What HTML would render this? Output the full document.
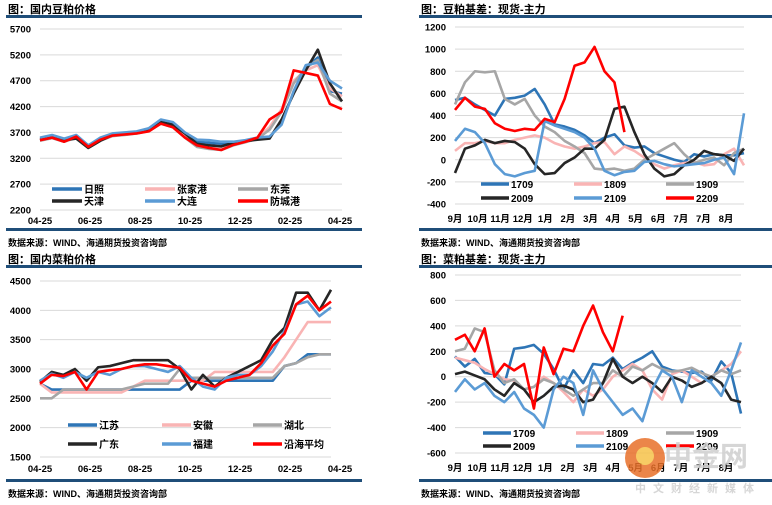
<!DOCTYPE html>
<html><head><meta charset="utf-8">
<style>
body{margin:0;background:#fff;width:772px;height:505px;overflow:hidden}
svg{display:block}
text{font-family:"Liberation Sans","Noto Sans CJK SC",sans-serif;font-weight:bold}
</style></head>
<body>
<svg id="s" width="772" height="505">
<text x="8" y="13" font-size="11">图：国内豆粕价格</text>
<rect x="6" y="15" width="356" height="3" fill="#1f4e79"/>
<rect x="6" y="228" width="356" height="3" fill="#1f4e79"/>
<text x="8" y="246" font-size="9">数据来源：WIND、海通期货投资咨询部</text>
<text x="421" y="13" font-size="11">图：豆粕基差：现货-主力</text>
<rect x="419" y="15" width="353" height="3" fill="#1f4e79"/>
<rect x="419" y="228" width="353" height="3" fill="#1f4e79"/>
<text x="421" y="246" font-size="9">数据来源：WIND、海通期货投资咨询部</text>
<text x="8" y="263" font-size="11">图：国内菜粕价格</text>
<rect x="6" y="265" width="356" height="3" fill="#1f4e79"/>
<rect x="6" y="479" width="356" height="3" fill="#1f4e79"/>
<text x="8" y="497" font-size="9">数据来源：WIND、海通期货投资咨询部</text>
<text x="421" y="263" font-size="11">图：菜粕基差：现货-主力</text>
<rect x="419" y="265" width="353" height="3" fill="#1f4e79"/>
<rect x="419" y="479" width="353" height="3" fill="#1f4e79"/>
<text x="421" y="497" font-size="9">数据来源：WIND、海通期货投资咨询部</text>
</svg>
<script>
// ---- chart data ----
const tlTicks=[2200,2700,3200,3700,4200,4700,5200,5700];
const dateLabels=["04-25","06-25","08-25","10-25","12-25","02-25","04-25"];
const tlNames=["日照","张家港","东莞","天津","大连","防城港"];
const tlRizhao=[3580,3620,3560,3620,3430,3580,3660,3690,3710,3770,3930,3880,3690,3520,3500,3480,3510,3540,3590,3600,3900,4480,4950,5150,4500,4450];
const tlZhangjiagang=[3550,3610,3530,3610,3420,3560,3640,3660,3690,3740,3880,3820,3620,3450,3420,3400,3470,3520,3600,3800,4150,4700,4900,5000,4550,4400];
const tlDongguan=[3540,3590,3520,3600,3400,3540,3630,3650,3680,3730,3870,3800,3600,3420,3380,3360,3450,3510,3580,3750,4100,4650,4950,5100,4450,4300];
const tlTianjin=[3560,3600,3550,3580,3400,3540,3650,3670,3700,3750,3900,3850,3680,3480,3450,3430,3500,3530,3560,3580,3950,4450,4900,5300,4650,4300];
const tlDalian=[3600,3650,3580,3650,3450,3600,3680,3700,3720,3780,3950,3900,3700,3560,3550,3520,3520,3550,3600,3620,3850,4500,5000,5050,4700,4550];
const tlFangcheng=[3550,3600,3520,3620,3420,3560,3640,3660,3680,3720,3870,3800,3600,3450,3400,3360,3460,3520,3600,3950,4100,4900,4850,4800,4250,4150];

const monthLabels=["9月","10月","11月","12月","1月","2月","3月","4月","5月","6月","7月","7月","8月"];
const trTicks=[-400,-200,0,200,400,600,800,1000,1200];
const basisNames=["1709","1809","1909","2009","2109","2209"];
const tr1709=[540,560,500,450,400,550,560,580,640,500,320,300,270,220,150,200,230,130,110,120,60,30,0,-20,50,30,50,40,40,60];
const tr1809=[80,150,150,170,150,150,180,200,220,200,150,120,100,120,150,160,50,120,80,20,-40,-80,-50,-30,-20,-50,-40,50,100,-50];
const tr1909=[500,700,800,790,800,550,500,550,400,300,250,170,120,60,-80,-90,-80,-100,-80,0,50,100,150,50,-30,0,20,-50,60,100];
const tr2009=[-120,100,130,180,150,170,160,100,-40,-130,-120,-30,20,100,100,180,460,480,250,50,-80,-150,-130,-50,0,80,50,40,-10,100];
const tr2109=[170,280,250,150,-40,-130,-150,-120,-100,350,310,280,250,200,100,-100,-140,-110,-100,-20,-10,-40,-60,-50,-40,-30,0,20,-130,420];
const tr2209=[450,560,480,460,330,280,260,280,270,370,340,550,850,880,1020,800,700,250];

const blTicks=[1500,2000,2500,3000,3500,4000,4500];
const blNames=["江苏","安徽","湖北","广东","福建","沿海平均"];
const blJiangsu=[2750,2650,2650,2650,2650,2650,2650,2650,2650,2650,2650,2650,2650,2800,2800,2800,2800,2800,2800,2800,2800,3050,3100,3250,3250,3250];
const blAnhui=[2750,2600,2600,2600,2600,2600,2600,2600,2700,2800,2800,2800,2800,2800,2800,2950,2950,2950,2950,2950,2950,3200,3500,3800,3800,3800];
const blHubei=[2500,2500,2650,2650,2650,2650,2650,2650,2700,2750,2750,2750,3000,2850,2850,2850,2850,2850,2850,2850,2850,3050,3100,3200,3250,3250];
const blGuangdong=[2780,2950,2900,3000,2800,3030,3050,3100,3150,3150,3150,3150,3000,2650,2900,2700,2850,2950,3050,3150,3500,3700,4300,4300,4000,4350];
const blFujian=[2800,2920,2850,2950,2850,2950,2900,3000,3050,3050,3000,2950,3050,2850,2700,2650,2850,2900,2900,3050,3300,3650,4100,4150,3900,4050];
const blCoastal=[2750,2900,2880,2950,2650,2950,2980,3000,3050,3080,3080,3050,3020,2800,2750,2700,2800,2850,2900,3100,3400,3600,4100,4250,4000,4150];

const brTicks=[-600,-400,-200,0,200,400,600,800];
const br1709=[160,80,140,30,20,-60,220,230,250,180,60,-100,50,-50,100,90,150,60,110,150,200,80,50,40,30,40,-30,120,30,-290];
const br1809=[150,130,110,60,20,-20,-30,-100,-80,0,-50,-120,-200,-100,-150,-100,0,50,100,50,-100,-180,20,50,0,-50,0,50,100,200];
const br1909=[200,220,380,350,50,-50,-20,-100,-80,-20,-50,-100,-150,-100,-50,-50,50,0,80,50,100,60,40,50,70,30,0,50,20,50];
const br2009=[20,40,10,-20,-100,-150,-50,-100,-200,-150,-80,-70,-100,-200,-180,-50,140,0,-50,0,-50,-120,0,-30,-80,-50,0,-50,-180,-200];
const br2109=[-120,-20,-100,-50,-150,-200,-120,-250,-300,-400,-100,0,-50,-300,50,-100,-200,-300,-250,-350,-100,50,0,-200,50,0,-50,-150,50,270];
const br2209=[290,330,200,380,0,100,50,100,-250,230,20,220,200,400,560,350,200,480];

const colors=["#2e75b6","#f9b4b4","#a6a6a6","#262626","#5b9bd5","#ff0000"];
const NS="http://www.w3.org/2000/svg";
const svg=document.getElementById("s");
function mk(tag,attrs,parent){const e=document.createElementNS(NS,tag);for(const k in attrs)e.setAttribute(k,attrs[k]);(parent||svg).appendChild(e);return e;}

function chart(c){
  const g=mk("g",{});
  
  
  const yS=v=>c.y1+(c.vmax-v)*(c.y0-c.y1)/(c.vmax-c.vmin);
  const xS=(i,n)=>c.x0+i*(c.x1-c.x0)/(n-1);
  c.ticks.forEach(t=>{
    const y=yS(t);
    const l=mk("line",{x1:c.x0,x2:c.x1,y1:y,y2:y,stroke:"#d9d9d9","stroke-width":1},g);
    
    
    const tx=mk("text",{x:c.lx,y:y+3.5,"font-size":9.5,"text-anchor":"end"},g);
    tx.textContent=t;
    
    
  });
  c.xlabels.forEach((t,i)=>{
    const tx=mk("text",{x:c.xl[0]+i*(c.xl[1]-c.xl[0])/(c.xlabels.length-1),y:c.xly,"font-size":9.5,"text-anchor":"middle"},g);
    tx.textContent=t;
    
    
  });
  c.series.forEach((s,k)=>{
    const n=c.n||s.length;
    let d="";
    s.forEach((v,i)=>{
      const x=xS(i,n),y=yS(v);
      if(i==0)d+="M"+x+","+y;
      else d+="L"+x+","+y;
    });
    const p=mk("path",{d:d,fill:"none",stroke:colors[k],"stroke-width":2.6,"stroke-linejoin":"round"},g);
    
    
  });
  c.names.forEach((nm,k)=>{
    const col=k%3,row=Math.floor(k/3);
    const lx=c.leg.x[col],ly=c.leg.y[row];
    const l=mk("line",{x1:lx,x2:lx+c.leg.w,y1:ly,y2:ly,stroke:colors[k],"stroke-width":3.5},g);
    
    
    const tx=mk("text",{x:lx+c.leg.w+2,y:ly+4,"font-size":10},g);
    tx.textContent=nm;
    
    
  });
}
chart({name:"soymeal-price-chart",x0:40,x1:342,y0:210,y1:29,vmin:2200,vmax:5700,lx:31,ticks:tlTicks,
  xlabels:dateLabels,xl:[40,340],xly:224,series:[tlRizhao,tlZhangjiagang,tlDongguan,tlTianjin,tlDalian,tlFangcheng],
  names:tlNames,leg:{x:[52,145,238],y:[189,201],w:30}});
chart({name:"soymeal-basis-chart",x0:455,x1:744,y0:204,y1:27,vmin:-400,vmax:1200,lx:446,ticks:trTicks,
  xlabels:monthLabels,xl:[455,726],xly:222,n:30,series:[tr1709,tr1809,tr1909,tr2009,tr2109,tr2209],
  names:basisNames,leg:{x:[481,574,666],y:[184,198],w:28}});
chart({name:"rapemeal-price-chart",x0:40,x1:331,y0:457,y1:281,vmin:1500,vmax:4500,lx:31,ticks:blTicks,
  xlabels:dateLabels,xl:[40,340],xly:472,series:[blJiangsu,blAnhui,blHubei,blGuangdong,blFujian,blCoastal],
  names:blNames,leg:{x:[68,162,253],y:[425,444],w:29}});
chart({name:"rapemeal-basis-chart",x0:455,x1:741,y0:453,y1:275,vmin:-600,vmax:800,lx:446,ticks:brTicks,
  xlabels:monthLabels,xl:[455,726],xly:471,n:30,series:[br1709,br1809,br1909,br2009,br2109,br2209],
  names:basisNames,leg:{x:[483,576,666],y:[433,446],w:28}});
// watermark
const wm=mk("g",{opacity:0.85});


mk("circle",{cx:645,cy:458,r:20,fill:"#e8702a"},wm);
mk("circle",{cx:645,cy:456,r:9,fill:"#f6c34a"},wm);
const w1=mk("text",{x:664,y:466,"font-size":28,fill:"#d0d0d0"},wm);w1.textContent="中金网";
const w2=mk("text",{x:635,y:492,"font-size":11,fill:"#cfcfcf","letter-spacing":"7"},wm);w2.textContent="中文财经新媒体";
</script>
</body></html>
